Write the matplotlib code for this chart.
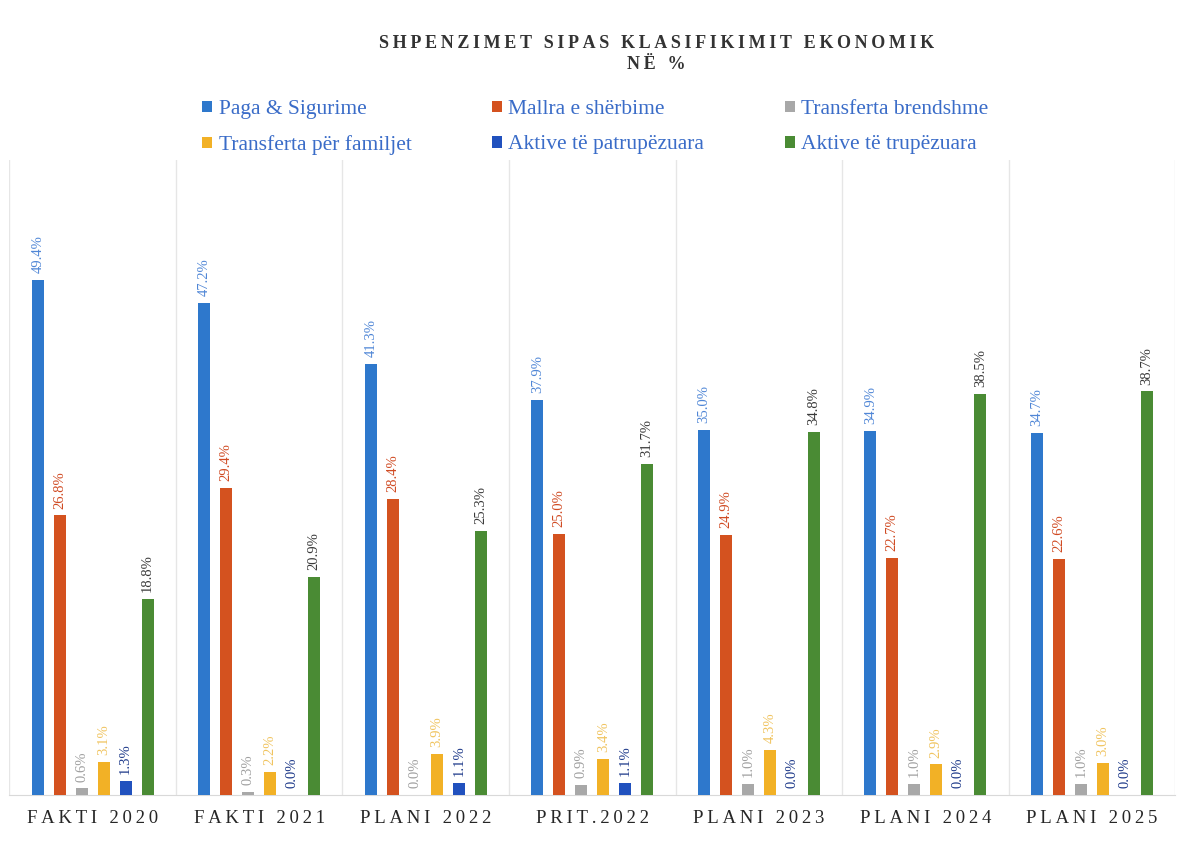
import matplotlib
matplotlib.use("Agg")
import matplotlib.pyplot as plt
import numpy as np
from matplotlib.patches import Patch

categories = ["FAKTI 2020", "FAKTI 2021", "PLANI 2022", "PRIT.2022",
              "PLANI 2023", "PLANI 2024", "PLANI 2025"]
series_names = ["Paga & Sigurime", "Mallra e shërbime", "Transferta brendshme",
                "Transferta për familjet", "Aktive të patrupëzuara", "Aktive të trupëzuara"]
paga = [49.4, 47.2, 41.3, 37.9, 35.0, 34.9, 34.7]
mallra = [26.8, 29.4, 28.4, 25.0, 24.9, 22.7, 22.6]
transf_brend = [0.6, 0.3, 0.0, 0.9, 1.0, 1.0, 1.0]
transf_fam = [3.1, 2.2, 3.9, 3.4, 4.3, 2.9, 3.0]
aktive_patr = [1.3, 0.0, 1.1, 1.1, 0.0, 0.0, 0.0]
aktive_trup = [18.8, 20.9, 25.3, 31.7, 34.8, 38.5, 38.7]
series = [paga, mallra, transf_brend, transf_fam, aktive_patr, aktive_trup]
title_lines = ["SHPENZIMET SIPAS KLASIFIKIMIT EKONOMIK", "NË %"]

bar_colors = ["#2E78CC", "#D4521F", "#A8A8A8", "#F2B126", "#2151BE", "#4A8B34"]
label_colors = ["#4F86D6", "#D04A22", "#A0A0A0", "#F0C460", "#1E3A8A", "#3A3A3A"]

plt.rcParams['font.family'] = ['Liberation Serif', 'DejaVu Serif']


def spaced(s, sep="\u2009"):
    return sep.join(list(s))


fig = plt.figure(figsize=(11.81, 8.61), dpi=100)
ax = fig.add_axes([0.008, 0.077, 0.987, 0.737])

x = np.arange(len(categories))
step = 0.132
width = 0.072
for i, (vals, c, lc) in enumerate(zip(series, bar_colors, label_colors)):
    pos = x + (i - 2.5) * step
    ax.bar(pos, vals, width=width, color=c, label=series_names[i], zorder=3)
    for p, v in zip(pos, vals):
        ax.annotate(f"{v:.1f}%", (p, v), xytext=(0, 5), textcoords="offset points",
                    rotation=90, ha="center", va="bottom", fontsize=10.5, color=lc)

ax.set_xlim(-0.5, len(categories) - 0.5)
ax.set_ylim(0, 60.9)
ax.set_yticks([])
for b in np.arange(-0.5, len(categories), 1.0):
    ax.axvline(b, color="#E6E6E6", lw=1.0, zorder=1)
for s in ["top", "left", "right"]:
    ax.spines[s].set_visible(False)
ax.spines["bottom"].set_color("#D9D9D9")
ax.set_xticks(x)
ax.set_xticklabels([spaced(c) for c in categories], fontsize=13.5, color="#262626")
ax.tick_params(axis="x", length=0, pad=11)

fig.text(0.556, 0.949, spaced(title_lines[0]), ha="center", va="center",
         fontsize=13, fontweight="bold", color="#333333")
fig.text(0.556, 0.925, spaced(title_lines[1]), ha="center", va="center",
         fontsize=13, fontweight="bold", color="#333333")

handles = [Patch(facecolor=c) for c in bar_colors]
order = [0, 3, 1, 4, 2, 5]
leg = fig.legend([handles[k] for k in order], [series_names[k] for k in order],
                 ncol=3, loc="upper left", bbox_to_anchor=(0.155, 0.906),
                 frameon=False, fontsize=15.5, handlelength=0.45, handleheight=0.45,
                 handletextpad=0.3, columnspacing=3.75, labelspacing=0.75)
for t in leg.get_texts():
    t.set_color("#3A6CC8")

fig.savefig("out.png", dpi=100)
